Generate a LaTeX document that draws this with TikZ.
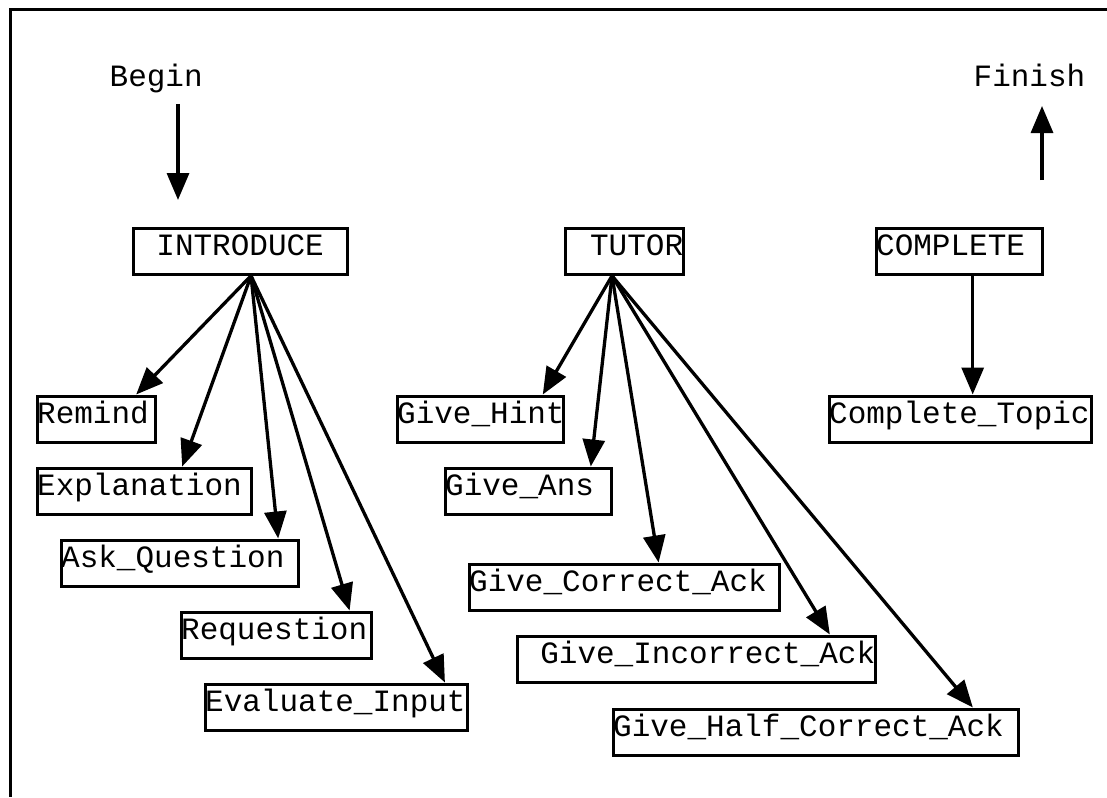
\documentclass[tikz,border=0pt]{standalone}
\usepackage{fontspec}
\setmonofont{Liberation Mono}
\usetikzlibrary{arrows.meta,calc}

\begin{document}
\begin{tikzpicture}[x=0.5pt,y=-0.5pt,>={Triangle[length=13.5pt,width=11pt]},line width=1.65pt,
  every node/.style={font=\ttfamily\fontsize{15.5}{18}\selectfont,inner sep=0pt},
  box/.style={draw,anchor=north west,align=left,text height=13.75pt,text depth=9.25pt}]
  \useasboundingbox (0,0) rectangle (1107,797);
  \draw (1107,9.5) -- (10.5,9.5) -- (10.5,797);
  % start and end
  \node[anchor=base west] (begin) at (108,87) {Begin};
  \node[anchor=base west] (finish) at (972,87) {Finish};
  \coordinate (beginfoot) at (178,104);
  \coordinate (introhead) at (178,200);
  \coordinate (completehead) at (1042,180);
  \coordinate (finishfoot) at (1042,106);
  \draw[->] (beginfoot) -- (introhead);
  \draw[->] (completehead) -- (finishfoot);
  % top level
  \node[box,align=center,text width=107pt] (intro) at (131.5,226.5) {INTRODUCE};
  \node[box,align=right,text width=59pt] (tutor) at (563.5,226.5) {TUTOR};
  \node[box,text width=83pt] (complete) at (874.5,226.5) {COMPLETE};
  % introduce
  \node[box,text width=59pt] (remind) at (35.5,394.5) {Remind};
  \node[box,text width=107pt] (explanation) at (35.5,466.5) {Explanation};
  \node[box,text width=118.5pt] (askq) at (59.5,538.5) {Ask\_Question};
  \node[box,text width=95pt] (requestion) at (179.5,610.5) {Requestion};
  \node[box,text width=131pt] (evaluate) at (203.5,682.5) {Evaluate\_Input};
  % tutor
  \node[box,text width=83pt] (givehint) at (395.5,394.5) {Give\_Hint};
  \node[box,text width=83pt] (giveans) at (443.5,466.5) {Give\_Ans};
  \node[box,text width=155pt] (givecorrect) at (467.5,562.5) {Give\_Correct\_Ack};
  \node[box,align=right,text width=179pt] (giveincorrect) at (515.5,634.5) {Give\_Incorrect\_Ack};
  \node[box,text width=202.5pt] (givehalf) at (611.5,707.5) {Give\_Half\_Correct\_Ack};
  % complete
  \node[box,text width=131pt] (completetopic) at (827.5,394.5) {Complete\_Topic};
  % connectors
  \coordinate (introfoot) at ($(intro.south west)!.55!(intro.south east)$);
  \draw[->] (introfoot) -- ($(remind.north west)!.83!(remind.north east)$);
  \draw[->] (introfoot) -- ($(explanation.north west)!.675!(explanation.north east)$);
  \draw[->] (introfoot) -- ($(askq.north west)!.91!(askq.north east)$);
  \draw[->] (introfoot) -- ($(requestion.north west)!.88!(requestion.north east)$);
  \draw[->] (introfoot) -- ($(evaluate.north west)!.91!(evaluate.north east)$);
  \coordinate (tutorfoot) at ($(tutor.south west)!.4!(tutor.south east)$);
  \draw[->] (tutorfoot) -- ($(givehint.north west)!.87!(givehint.north east)$);
  \draw[->] (tutorfoot) -- ($(giveans.north west)!.87!(giveans.north east)$);
  \draw[->] (tutorfoot) -- ($(givecorrect.north west)!.61!(givecorrect.north east)$);
  \draw[->] (tutorfoot) -- ($(giveincorrect.north west)!.87!(giveincorrect.north east)$);
  \draw[->] (tutorfoot) -- ($(givehalf.north west)!.885!(givehalf.north east)$);
  \coordinate (completefoot) at ($(complete.south west)!.58!(complete.south east)$);
  \draw[->] (completefoot) -- (completefoot |- completetopic.north);
\end{tikzpicture}
\end{document}
